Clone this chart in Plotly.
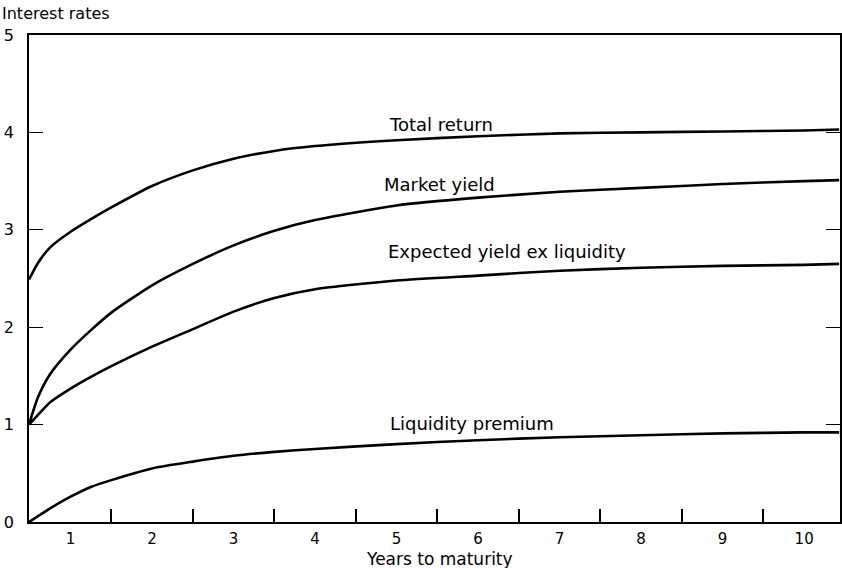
import plotly.graph_objects as go

# Data
years = [0.49, 0.6, 0.75, 1.0, 1.25, 1.5, 2.0, 2.5, 3.0, 3.5, 4.0, 5.0, 6.0, 7.0, 8.0, 9.0, 10.0, 10.43]
total_return = [2.49, 2.66, 2.82, 2.98, 3.11, 3.23, 3.45, 3.61, 3.73, 3.81, 3.86, 3.92, 3.96, 3.99, 4.00, 4.01, 4.02, 4.03]
market_yield = [1.00, 1.28, 1.52, 1.77, 1.97, 2.15, 2.43, 2.65, 2.84, 2.99, 3.10, 3.25, 3.33, 3.39, 3.43, 3.47, 3.50, 3.51]
expected_yield = [1.00, 1.10, 1.23, 1.37, 1.49, 1.60, 1.80, 1.98, 2.16, 2.30, 2.39, 2.48, 2.53, 2.58, 2.61, 2.63, 2.64, 2.65]
liquidity_premium = [0.00, 0.06, 0.14, 0.26, 0.36, 0.43, 0.55, 0.62, 0.68, 0.72, 0.75, 0.80, 0.84, 0.87, 0.89, 0.91, 0.92, 0.92]

x_labels = ["1", "2", "3", "4", "5", "6", "7", "8", "9", "10"]
x_label_vals = [1, 2, 3, 4, 5, 6, 7, 8, 9, 10]
x_tick_marks = [1.5, 2.5, 3.5, 4.5, 5.5, 6.5, 7.5, 8.5, 9.5]
y_vals = [0, 1, 2, 3, 4, 5]

FONT = "DejaVu Sans"

fig = go.Figure()
for name, ys in [("Total return", total_return), ("Market yield", market_yield),
                 ("Expected yield ex liquidity", expected_yield),
                 ("Liquidity premium", liquidity_premium)]:
    fig.add_trace(go.Scatter(x=years, y=ys, mode="lines", name=name,
                             line=dict(color="black", width=2.6, shape="spline", smoothing=0.6),
                             showlegend=False, hoverinfo="skip"))

labels = [("Total return", 5.55, 4.08), ("Market yield", 5.53, 3.47),
          ("Expected yield ex liquidity", 6.36, 2.78), ("Liquidity premium", 5.92, 1.01)]
annotations = [dict(text=t, x=x, y=y, xref="x", yref="y", showarrow=False,
                    font=dict(family=FONT, size=18, color="black")) for t, x, y in labels]

annotations.append(dict(text="Interest rates", xref="paper", yref="paper",
                        x=-29/811, y=1, xanchor="left", yanchor="bottom", yshift=10,
                        showarrow=False, font=dict(family=FONT, size=16, color="black")))
annotations.append(dict(text="Years to maturity", xref="paper", yref="paper",
                        x=(440-29)/811, y=0, xanchor="center", yanchor="middle", yshift=-37,
                        showarrow=False, font=dict(family=FONT, size=17, color="black")))

fig.update_layout(
    width=842, height=568, autosize=False,
    margin=dict(l=29, r=2, t=35, b=46, autoexpand=False),
    paper_bgcolor="white", plot_bgcolor="white",
    font=dict(family=FONT, size=16, color="black"),
    annotations=annotations,
    xaxis=dict(range=[0.49, 10.44], tickvals=x_label_vals, ticktext=x_labels,
               ticks="", showgrid=False, zeroline=False, automargin=False,
               showline=True, linecolor="black", linewidth=1.8, mirror=True,
               ticklabelstandoff=2, tickfont=dict(family=FONT, size=15),
               minor=dict(tickvals=x_tick_marks, ticks="inside", ticklen=13,
                          tickcolor="black", tickwidth=1.6, showgrid=False)),
    yaxis=dict(range=[0, 5], tickvals=y_vals, ticks="inside", ticklen=14,
               tickcolor="black", tickwidth=1.4, showgrid=False, zeroline=False,
               automargin=False,
               showline=True, linecolor="black", linewidth=1.8, mirror="ticks",
               ticklabelstandoff=10),
)

post = ("document.body.style.margin='0';document.body.style.padding='0';"
        "document.body.style.overflow='hidden';"
        "var gd=document.getElementById('{plot_id}');"
        "Plotly.relayout(gd,{width:842,height:568});")

fig.write_html("out.html", config={"responsive": False, "displayModeBar": False},
               post_script=post)
